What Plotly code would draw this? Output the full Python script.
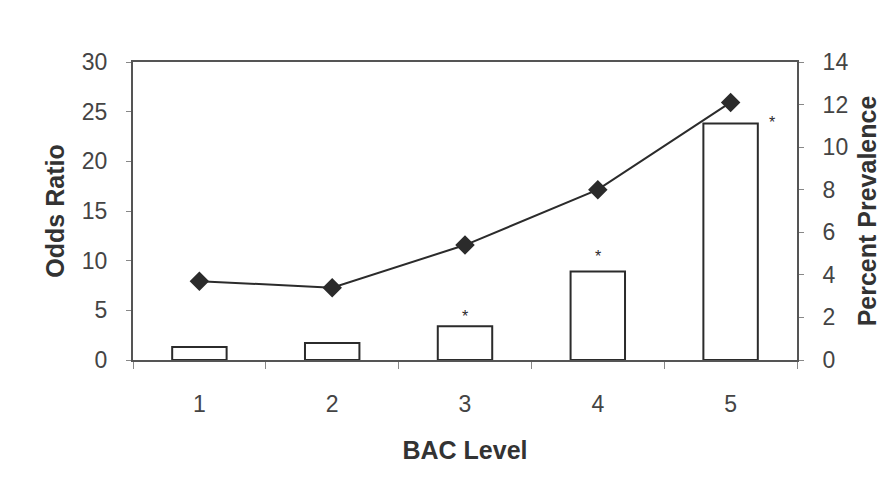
import plotly.graph_objects as go

bac_levels = ["1", "2", "3", "4", "5"]
odds_ratio = [1.3, 1.7, 3.4, 8.9, 23.8]
percent_prevalence = [3.7, 3.4, 5.4, 8.0, 12.1]
significant = [False, False, True, True, True]

left_ticks = [0, 5, 10, 15, 20, 25, 30]
right_ticks = [0, 2, 4, 6, 8, 10, 12, 14]

ink = "#2b2b2b"
font_family = "Liberation Sans, Arial, sans-serif"

fig = go.Figure()
fig.add_trace(go.Bar(
    x=bac_levels, y=odds_ratio, width=0.41,
    marker=dict(color="white", line=dict(color=ink, width=2)),
    yaxis="y", showlegend=False,
))
fig.add_trace(go.Scatter(
    x=bac_levels, y=percent_prevalence, mode="lines+markers",
    line=dict(color=ink, width=2),
    marker=dict(symbol="diamond", size=15, color=ink),
    yaxis="y2", showlegend=False,
))

annotations = []
last = len(bac_levels) - 1
for i, (val, sig) in enumerate(zip(odds_ratio, significant)):
    if not sig:
        continue
    if i == last:
        xs, ys = 41, 1
    elif i == 3:
        xs, ys = 0, 15
    else:
        xs, ys = 0, 10
    annotations.append(dict(x=i, y=val, xref="x", yref="y", text="*",
                            showarrow=False, xshift=xs, yshift=ys,
                            font=dict(size=16, color=ink, family=font_family)))

# the page body adds an 8px margin around the figure
fig.update_layout(
    width=873, height=478,
    margin=dict(l=125, r=84, t=54, b=126),
    paper_bgcolor="white", plot_bgcolor="white",
    font=dict(family=font_family, color="#333333", size=20),
    xaxis=dict(
        type="category", showgrid=False, showline=True, linecolor="#555555", linewidth=2,
        mirror=True, ticks="outside", tickson="boundaries", ticklen=7, tickcolor="#888888",
        tickfont=dict(size=23, color="#444444"), ticklabelstandoff=22,
        automargin=False,
        title=dict(text="<b>BAC Level</b>", font=dict(size=25, color="#333333"), standoff=26),
        range=[-0.5, 4.5],
    ),
    yaxis=dict(
        range=[0, 30], tickvals=left_ticks, showgrid=False, showline=True,
        linecolor="#555555", linewidth=2, ticks="outside", ticklen=5, tickcolor="#888888",
        tickfont=dict(size=23, color="#444444"), ticklabelstandoff=14, zeroline=False,
        automargin=False,
        title=dict(text="<b>Odds Ratio</b>", font=dict(size=25, color="#333333"), standoff=10),
    ),
    yaxis2=dict(
        range=[0, 14], tickvals=right_ticks, overlaying="y", side="right",
        showgrid=False, showline=True, linecolor="#555555", linewidth=2,
        ticks="outside", ticklen=5, tickcolor="#888888",
        tickfont=dict(size=23, color="#444444"), ticklabelstandoff=14, zeroline=False,
        automargin=False,
        title=dict(text="<b>Percent Prevalence</b>", font=dict(size=25, color="#333333"), standoff=22),
    ),
    annotations=annotations,
)

fig.write_html("out.html")
